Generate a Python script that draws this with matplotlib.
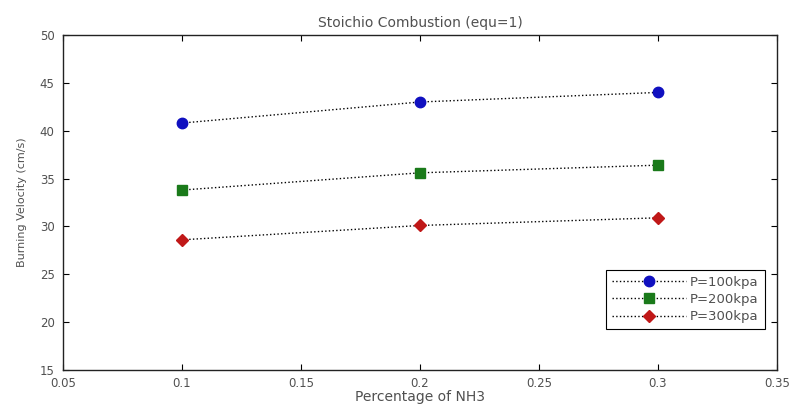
"""Burning velocity vs NH3 fraction, stoichiometric combustion (MATLAB-style figure)."""

import matplotlib.pyplot as plt

plt.rcParams["font.family"] = ["DejaVu Sans"]

# data
nh3_frac = [0.1, 0.2, 0.3]
v_100kpa = [40.8, 43.0, 44.0]
v_200kpa = [33.8, 35.6, 36.4]
v_300kpa = [28.6, 30.1, 30.9]
series_labels = ["P=100kpa", "P=200kpa", "P=300kpa"]

x_ticks = [0.05, 0.1, 0.15, 0.2, 0.25, 0.3, 0.35]
x_ticklabels = ["0.05", "0.1", "0.15", "0.2", "0.25", "0.3", "0.35"]
y_ticks = [15, 20, 25, 30, 35, 40, 45, 50]

text_color = "#505050"

fig = plt.figure(figsize=(7.96, 4.05), dpi=100, facecolor="white")
ax = fig.add_axes([0.079, 0.0864, 0.897, 0.8272])

styles = [
    ("o", "#1010c0", 7.5),
    ("s", "#1a7a1a", 7.5),
    ("D", "#c01818", 6.5),
]
for vals, label, (mk, col, ms) in zip(
    [v_100kpa, v_200kpa, v_300kpa], series_labels, styles
):
    ax.plot(
        nh3_frac,
        vals,
        linestyle=":",
        color="black",
        linewidth=1.0,
        marker=mk,
        markersize=ms,
        markerfacecolor=col,
        markeredgecolor=col,
        label=label,
    )

ax.set_xlim(0.05, 0.35)
ax.set_ylim(15, 50)
ax.set_xticks(x_ticks)
ax.set_xticklabels(x_ticklabels)
ax.set_yticks(y_ticks)
ax.tick_params(
    direction="in",
    top=True,
    right=True,
    length=4,
    width=0.8,
    labelsize=8.5,
    labelcolor=text_color,
)
ax.tick_params(axis="x", pad=5)
ax.tick_params(axis="y", pad=6)
for sp in ax.spines.values():
    sp.set_linewidth(1.0)
    sp.set_color("#222222")

ax.set_title("Stoichio Combustion (equ=1)", fontsize=10, color=text_color, pad=6)
ax.set_xlabel("Percentage of NH3", fontsize=10, color=text_color, labelpad=0)
ax.set_ylabel("Burning Velocity (cm/s)", fontsize=8, color=text_color, labelpad=9)

leg = ax.legend(
    loc="lower right",
    bbox_to_anchor=(0.983, 0.122),
    borderaxespad=0,
    fontsize=9.5,
    frameon=True,
    fancybox=False,
    framealpha=1,
    edgecolor="black",
    handlelength=5.6,
    labelspacing=0.32,
    borderpad=0.45,
    handletextpad=0.3,
)
leg.get_frame().set_linewidth(0.8)
for t in leg.get_texts():
    t.set_color(text_color)

fig.savefig("out.png", dpi=100, facecolor="white")
